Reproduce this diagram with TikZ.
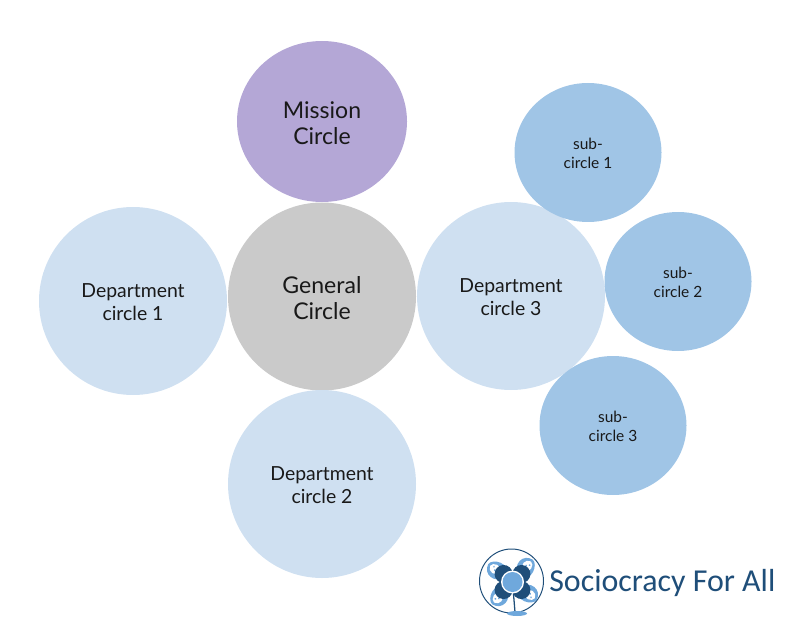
\documentclass[tikz,border=0pt]{standalone}
\usepackage{fontspec}
\setmainfont{Lato}
\newfontfamily\logofont{Carlito}
\usetikzlibrary{shapes.geometric}
\definecolor{missionfill}{HTML}{B4A7D6}
\definecolor{generalfill}{HTML}{CACACA}
\definecolor{deptfill}{HTML}{CFE0F1}
\definecolor{subfill}{HTML}{A0C5E6}
\definecolor{logonavy}{HTML}{1F4E79}
\definecolor{logolight}{HTML}{6FA8DC}
\newcommand{\topadj}{\rule{0pt}{.84em}}
\tikzset{
  bubble/.style={ellipse, inner sep=0pt, align=center, text=black!90},
  bigbubble/.style={bubble, minimum width=188*0.025cm, minimum height=188*0.025cm, font=\fontsize{13.8}{15.8}\selectfont},
  subbubble/.style={bubble, fill=subfill, minimum width=147*0.025cm, minimum height=139*0.025cm, font=\fontsize{11}{13.6}\selectfont},
  headfont/.style={font=\fontsize{16.4}{18.6}\selectfont}
}
\begin{document}
\begin{tikzpicture}
  [x=0.025cm,y=-0.025cm]

 \useasboundingbox (0,0) rectangle (800,636);

 \node[bubble, headfont, fill=missionfill, minimum width=170*0.025cm, minimum height=161*0.025cm] (mission) at (322,121.5) {\topadj Mission\\Circle};
 \node[bigbubble, headfont, fill=generalfill] (general) at (322,296.5) {\topadj General\\Circle};
 \node[bigbubble, fill=deptfill] (dept1) at (133,301) {\topadj Department\\circle 1};
 \node[bigbubble, fill=deptfill] (dept2) at (322,484) {\topadj Department\\circle 2};
 \node[bigbubble, fill=deptfill] (dept3) at (511,296) {\topadj Department\\circle 3};

 \node[subbubble] (sub1) at (588,152.5) {\topadj sub-\\circle 1};
 \node[subbubble] (sub2) at (678,281.5) {\topadj sub-\\circle 2};
 \node[subbubble] (sub3) at (613,425.5) {\topadj sub-\\circle 3};

 % logo
 \coordinate (hub) at (512.5,582);
 \draw[logonavy, line width=0.7pt] (511.5,581) circle (32);
 \draw[logonavy, line width=0.9pt] (hub) -- (515,612);
 \fill[logolight] (517,613.5) ellipse (10 and 2.5);
 \foreach \ang in {42,138,222,318} {
   \begin{scope}[shift={(hub)}, rotate=\ang]
     \fill[logolight] (8,0) .. controls (12,-14) and (27,-14) .. (30,-3) .. controls (31,4) and (14,14) .. (8,0) -- cycle;
     \fill[white] (15,-1) .. controls (17,-8) and (25,-9) .. (27.5,-3) .. controls (28,2) and (19,6) .. (15,-1) -- cycle;
     \fill[logolight] (21,-3) circle (1.1) (24,-1) circle (1);
     \fill[logonavy] (12,0) circle (9);
   \end{scope}
 }
 \fill[white] (hub) circle (11.5);
 \fill[logolight] (hub) circle (10);

 \node[font=\logofont\fontsize{22.7}{26}\selectfont, text=logonavy, anchor=west, inner sep=0pt] (logotext) at (549,583) {Sociocracy For All};

\end{tikzpicture}
\end{document}
